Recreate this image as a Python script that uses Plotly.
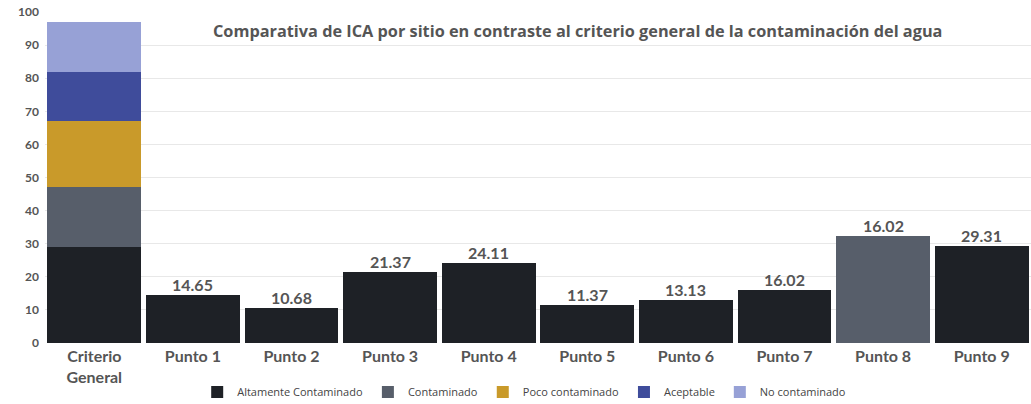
import plotly.graph_objects as go

categories = ["Criterio<br>General", "Punto 1", "Punto 2", "Punto 3", "Punto 4",
              "Punto 5", "Punto 6", "Punto 7", "Punto 8", "Punto 9"]

# Stacked segments per series (None = no bar)
altamente = [29, 14.65, 10.68, 21.37, 24.11, 11.37, 13.13, 16.02, None, 29.31]
contaminado = [18, None, None, None, None, None, None, None, 32.2, None]
poco = [20, None, None, None, None, None, None, None, None, None]
aceptable = [15, None, None, None, None, None, None, None, None, None]
no_contaminado = [15, None, None, None, None, None, None, None, None, None]

# Labels shown above Punto bars
label_text = [None, "14.65", "10.68", "21.37", "24.11", "11.37", "13.13", "16.02", "16.02", "29.31"]
label_height = [None, 14.65, 10.68, 21.37, 24.11, 11.37, 13.13, 16.02, 32.2, 29.31]

series_names = ["Altamente Contaminado", "Contaminado", "Poco contaminado", "Aceptable", "No contaminado"]
series_values = [altamente, contaminado, poco, aceptable, no_contaminado]
series_colors = ["#1e2126", "#575e6a", "#c99a2a", "#3f4c9b", "#97a1d6"]

FONT = "Lato"
TXT = "#555555"

fig = go.Figure()
for name, vals, col in zip(series_names, series_values, series_colors):
    fig.add_trace(go.Bar(x=categories, y=vals, name=name, marker_color=col,
                         marker_line_width=0))

for c, t, h in zip(categories, label_text, label_height):
    if t is None:
        continue
    fig.add_annotation(x=c, y=h, text=f"<b>{t}</b>", showarrow=False,
                       yanchor="bottom", yshift=-1,
                       font=dict(family=FONT, size=16, color=TXT))

fig.add_annotation(xref="paper", yref="paper", x=0.54, y=0.943, yanchor="middle",
                   text="<b>Comparativa de ICA por sitio en contraste al criterio general de la contaminación del agua</b>",
                   showarrow=False, font=dict(family="Open Sans", size=16.3, color=TXT))

fig.update_layout(
    width=1031, height=404,
    barmode="stack", bargap=0.05,
    paper_bgcolor="white", plot_bgcolor="white",
    margin=dict(l=45, r=0, t=12, b=61, autoexpand=False),
    font=dict(family=FONT, color=TXT),
    showlegend=True,
    legend=dict(orientation="h", x=0.486, xanchor="center",
                yref="container", y=0.03, yanchor="middle",
                font=dict(family="Open Sans", size=11, color="#444444"),
                itemwidth=30, traceorder="normal", tracegroupgap=0),
)
fig.update_yaxes(range=[0, 100], dtick=10, showgrid=True, gridcolor="#e8e8e8",
                 zeroline=False, automargin=False, ticklabelstandoff=5,
                 tickfont=dict(family=FONT, size=12, color=TXT),
                 tickprefix="<b>", ticksuffix="</b>")
fig.update_xaxes(range=[-0.5, 9.5], automargin=False, ticklabelstandoff=2,
                 tickfont=dict(family=FONT, size=16, color=TXT), showline=False,
                 ticktext=[f"<b>{c}</b>" for c in categories], tickvals=categories)

fig.write_html("out.html", config={"displayModeBar": False},
               post_script="document.body.style.margin='0';document.body.style.overflow='hidden';")
